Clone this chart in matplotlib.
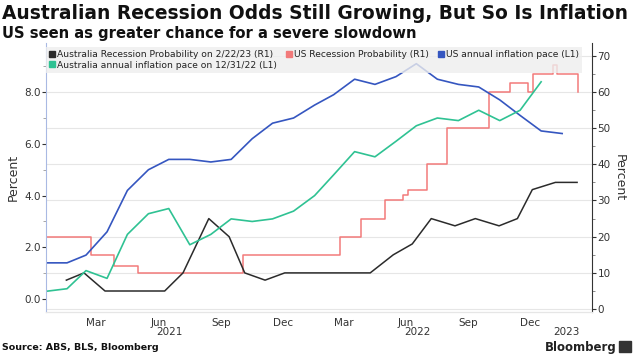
"""Australian vs US recession odds and inflation, Bloomberg-style dual-axis chart."""
import matplotlib
matplotlib.use("Agg")
import matplotlib.pyplot as plt
import matplotlib.dates as mdates
from matplotlib.lines import Line2D
from matplotlib.ticker import MultipleLocator
import pandas as pd

# --- data --------------------------------------------------------------------
# monthly inflation, plotted at month end
us_infl_dates = pd.date_range("2020-12-31", "2023-01-31", freq="ME")
us_infl = [1.4, 1.4, 1.7, 2.6, 4.2, 5.0, 5.4, 5.4, 5.3, 5.4, 6.2, 6.8, 7.0,
           7.5, 7.9, 8.5, 8.3, 8.6, 9.1, 8.5, 8.3, 8.2, 7.7, 7.1, 6.5, 6.4]

aus_infl_dates = pd.date_range("2020-12-31", "2022-12-31", freq="ME")
aus_infl = [0.3, 0.4, 1.1, 0.8, 2.5, 3.3, 3.5, 2.1, 2.5, 3.1, 3.0, 3.1, 3.4,
            4.0, 4.8, 5.7, 5.5, 6.1, 6.7, 7.0, 6.9, 7.3, 6.9, 7.3, 8.4]

# survey-based recession probabilities (%)
aus_rec_dates = pd.to_datetime([
    "2021-01-30", "2021-02-25", "2021-03-28", "2021-06-24", "2021-07-21",
    "2021-08-28", "2021-09-27", "2021-10-20", "2021-11-19", "2021-12-18",
    "2022-04-23", "2022-05-27", "2022-06-24", "2022-07-22", "2022-08-26",
    "2022-09-25", "2022-10-30", "2022-11-26", "2022-12-18", "2023-01-21",
    "2023-02-22"])
aus_rec = [8, 10, 5, 5, 10, 25, 20, 10, 8, 10,
           10, 15, 18, 25, 23, 25, 23, 25, 33, 35, 35]

us_rec_dates = pd.to_datetime([
    "2020-12-31", "2021-03-07", "2021-04-10", "2021-05-16", "2021-10-18",
    "2022-03-10", "2022-04-10", "2022-05-15", "2022-06-11", "2022-06-18",
    "2022-07-16", "2022-08-14", "2022-10-15", "2022-11-15", "2022-12-12",
    "2022-12-19", "2023-01-18", "2023-01-24", "2023-02-24"])
us_rec = [20, 15, 12, 10, 15, 20, 25, 30, 31.5, 33,
          40, 50, 60, 62.5, 60, 65, 67.5, 65, 60]

month_tick_dates = pd.to_datetime([
    "2021-03-15", "2021-06-15", "2021-09-15", "2021-12-15",
    "2022-03-15", "2022-06-15", "2022-09-15", "2022-12-15"])
month_tick_labels = ["Mar", "Jun", "Sep", "Dec", "Mar", "Jun", "Sep", "Dec"]
year_label_dates = pd.to_datetime(["2021-07-01", "2022-07-01", "2023-02-06"])
year_labels = ["2021", "2022", "2023"]

C_BLUE = "#3556c0"
C_TEAL = "#2fc293"
C_RED = "#f27a7a"
C_BLACK = "#2b2b2b"
GRID = "#e6e6e6"

plt.rcParams["font.family"] = ["DejaVu Sans"]

fig = plt.figure(figsize=(6.34, 3.56), dpi=100)
ax = fig.add_axes([46 / 634, 44 / 356, 546 / 634, 269 / 356])
ax2 = ax.twinx()
ax.set_zorder(ax2.get_zorder() + 1)
ax.patch.set_visible(False)

# right axis: recession odds
ax2.step(us_rec_dates, us_rec, where="post", color=C_RED, lw=1.1)
ax2.plot(aus_rec_dates, aus_rec, color=C_BLACK, lw=1.1)
ax2.set_ylim(-0.8, 73.5)
ax2.yaxis.set_major_locator(MultipleLocator(10))
ax2.yaxis.set_minor_locator(MultipleLocator(5))
ax2.grid(axis="y", color=GRID, lw=0.8)
ax2.grid(axis="x", which="major", color=GRID, lw=0.8)
ax2.set_axisbelow(True)

# left axis: inflation
ax.plot(us_infl_dates, us_infl, color=C_BLUE, lw=1.2)
ax.plot(aus_infl_dates, aus_infl, color=C_TEAL, lw=1.2)
ax.set_ylim(-0.5, 9.9)
ax.yaxis.set_major_locator(MultipleLocator(2))
ax.yaxis.set_minor_locator(MultipleLocator(1))
ax.yaxis.set_major_formatter(lambda v, p: f"{v:.1f}")

ax.set_xlim(pd.Timestamp("2020-12-31"), pd.Timestamp("2023-03-16"))
ax.xaxis.set_major_locator(mdates.MonthLocator(bymonth=[1, 4, 7, 10]))
ax.xaxis.set_major_formatter(plt.NullFormatter())
ax.set_xticks(mdates.date2num(month_tick_dates), minor=True)
ax.set_xticklabels(month_tick_labels, minor=True)
ax.tick_params(axis="x", which="both", length=0, labelsize=7.5,
               colors="#333333", pad=4)
for d, lab in zip(year_label_dates, year_labels):
    ax.text(d, -0.075, lab, transform=ax.get_xaxis_transform(),
            ha="center", va="center", fontsize=7.5, color="#333333")

ax.tick_params(axis="y", which="major", length=3, labelsize=7.5,
               colors="#333333", pad=1)
ax.tick_params(axis="y", which="minor", length=2, colors="#999999")
ax2.tick_params(axis="y", which="major", length=3, labelsize=7.5,
                colors="#333333", pad=1)
ax2.tick_params(axis="y", which="minor", length=2, colors="#777777")

for a in (ax, ax2):
    a.spines["top"].set_visible(False)
    a.spines["bottom"].set_color(GRID)
ax2.spines["left"].set_visible(False)
ax.spines["right"].set_visible(False)
ax.spines["left"].set_color("#a9b9e3")
ax2.spines["right"].set_color("#333333")

ax.set_ylabel("Percent", fontsize=9, color="#333333", labelpad=3)
ax2.set_ylabel("Percent", fontsize=9, color="#333333", rotation=270,
               labelpad=11)

# legend (column-major fill -> reorder for row layout)
handles = [
    Line2D([], [], ls="none", marker="s", ms=4.5, color=C_BLACK),
    Line2D([], [], ls="none", marker="s", ms=4.5, color=C_TEAL),
    Line2D([], [], ls="none", marker="s", ms=4.5, color=C_RED),
    Line2D([], [], ls="none", marker="s", ms=4.5, color=C_BLUE),
]
labels = [
    "Australia Recession Probability on 2/22/23 (R1)",
    "Australia annual inflation pace on 12/31/22 (L1)",
    "US Recession Probability (R1)",
    "US annual inflation pace (L1)",
]
leg = ax.legend(handles, labels, ncol=3, loc="upper left",
                bbox_to_anchor=(0.0, 0.985), borderaxespad=0,
                fontsize=6.6, handlelength=0.6, handletextpad=0.25,
                columnspacing=1.0, labelspacing=0.15, borderpad=0.35,
                frameon=True, fancybox=False, framealpha=0.8,
                facecolor="#eeeeee", edgecolor="none")
for t in leg.get_texts():
    t.set_color("#222222")

fig.text(0.003, 0.962, "Australian Recession Odds Still Growing, But So Is Inflation",
         fontsize=13.4, fontweight="bold", va="center", ha="left", color="#111111")
fig.text(0.003, 0.907, "US seen as greater chance for a severe slowdown",
         fontsize=10.6, fontweight="bold", va="center", ha="left", color="#111111")
fig.text(0.003, 0.025, "Source: ABS, BLS, Bloomberg", fontsize=6.8,
         fontweight="bold", va="center", ha="left", color="#111111")
fig.text(0.973, 0.025, "Bloomberg", fontsize=8.5, fontweight="bold",
         va="center", ha="right", color="#222222")
fig.patches.append(plt.Rectangle((0.977, 0.012), 0.019, 0.03,
                                 transform=fig.transFigure, color="#333333"))

fig.savefig("out.png", dpi=100)
